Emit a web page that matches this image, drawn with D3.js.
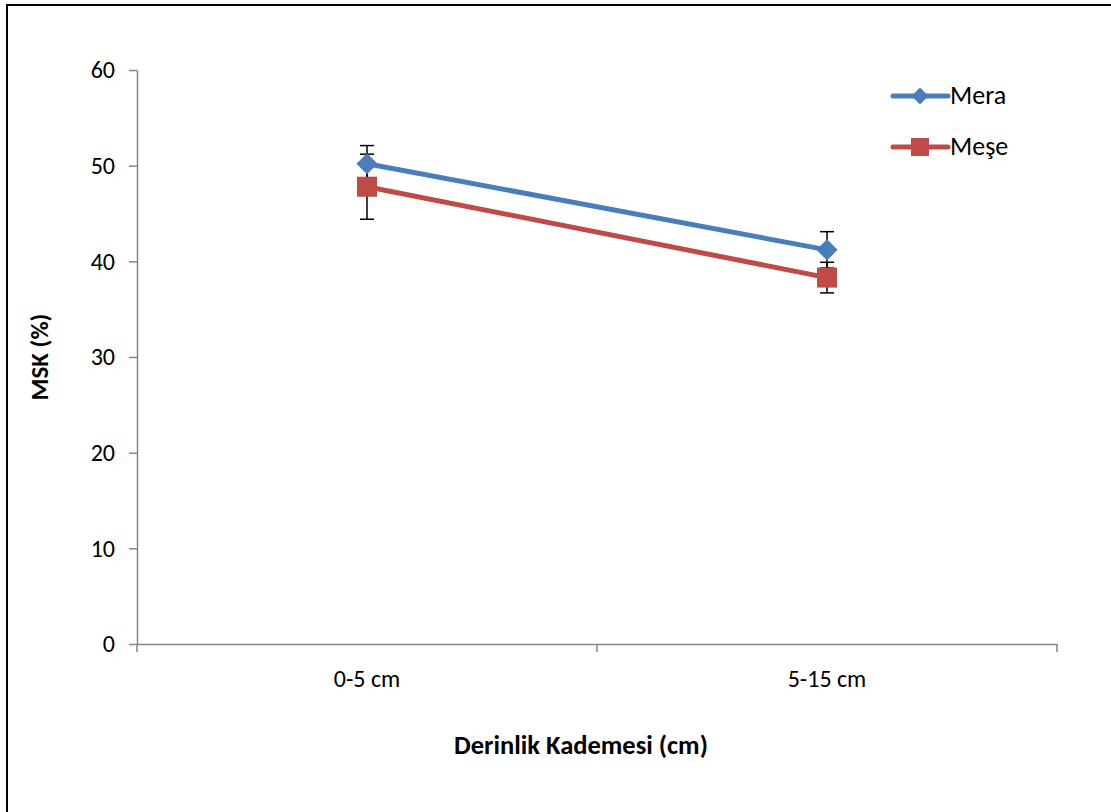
<!DOCTYPE html>
<html>
<head>
<meta charset="utf-8">
<script src="https://cdn.jsdelivr.net/npm/d3@7"></script>
<style>
  body { margin: 0; background: #fff; }
  text { font-family: Carlito, "Open Sans", "Liberation Sans", sans-serif; }
</style>
</head>
<body>
<div id="chart"></div>
<script>
const categories = ["0-5 cm", "5-15 cm"];
const seriesNames = ["Mera", "Meşe"];
const meraValues = [50.2, 41.2];
const meraErrors = [1.9, 1.9];
const meseValues = [47.8, 38.3];
const meseErrors = [3.4, 1.6];
const yTicks = [0, 10, 20, 30, 40, 50, 60];

const width = 1111, height = 812;
const margin = { left: 137, right: 54, top: 70, bottom: 168 };

const svg = d3.select("#chart").append("svg")
    .attr("width", width)
    .attr("height", height);

// outer frame
svg.append("rect")
    .attr("x", 7).attr("y", 5)
    .attr("width", width + 10).attr("height", height + 10)
    .attr("fill", "none").attr("stroke", "#000").attr("stroke-width", 2);

const x = d3.scaleBand()
    .domain(categories)
    .range([margin.left, width - margin.right]);

const y = d3.scaleLinear()
    .domain([0, 60])
    .range([height - margin.bottom, margin.top]);

// y axis
const yAxis = svg.append("g")
    .attr("transform", `translate(${margin.left},0)`)
    .call(d3.axisLeft(y).tickValues(yTicks).tickSize(8).tickPadding(14).tickSizeOuter(0));
yAxis.attr("font-family", null);
yAxis.select(".domain").attr("stroke", "#868686").attr("stroke-width", 1.5);
yAxis.selectAll(".tick line").attr("stroke", "#868686").attr("stroke-width", 1.5);
yAxis.selectAll(".tick text").attr("font-size", 24).attr("fill", "#000");

// x axis
const xAxis = svg.append("g")
    .attr("transform", `translate(0,${y(0)})`)
    .call(d3.axisBottom(x).tickSize(0).tickPadding(26));
xAxis.attr("font-family", null);
xAxis.select(".domain").attr("stroke", "#868686").attr("stroke-width", 1.5);
xAxis.selectAll(".tick text").attr("font-size", 24).attr("fill", "#000");
// category boundary ticks
const bounds = [margin.left, margin.left + x.step(), width - margin.right];
svg.selectAll("line.xb")
    .data(bounds)
    .enter().append("line")
    .attr("x1", d => d).attr("x2", d => d)
    .attr("y1", y(0)).attr("y2", y(0) + 8)
    .attr("stroke", "#868686").attr("stroke-width", 1.5);

// axis titles
svg.append("text")
    .attr("x", 581)
    .attr("y", 754)
    .attr("text-anchor", "middle")
    .attr("font-size", 26.5).attr("font-weight", "bold")
    .text("Derinlik Kademesi (cm)");

svg.append("text")
    .attr("transform", `translate(48,${(y(0) + y(60)) / 2}) rotate(-90)`)
    .attr("text-anchor", "middle")
    .attr("font-size", 25).attr("font-weight", "bold")
    .text("MSK (%)");

const cx = d => x(d) + x.bandwidth() / 2;

const series = [
    { name: seriesNames[0], values: meraValues, errors: meraErrors, color: "#4a7ebb", diamond: true },
    { name: seriesNames[1], values: meseValues, errors: meseErrors, color: "#be4b48", diamond: false }
];

// marker: square, rotated 45 for diamond
function marker(sel, s, side) {
    sel.append("rect")
        .attr("x", -side / 2).attr("y", -side / 2)
        .attr("width", side).attr("height", side)
        .attr("fill", s.color)
        .attr("transform", s.diamond ? "rotate(45)" : null);
}

// error bars
series.forEach(s => {
    const g = svg.append("g");
    categories.forEach((c, i) => {
        const v = s.values[i], e = s.errors[i];
        g.append("line")
            .attr("x1", cx(c)).attr("x2", cx(c))
            .attr("y1", y(v + e)).attr("y2", y(v - e))
            .attr("stroke", "#000").attr("stroke-width", 1.5);
        [v + e, v - e].forEach(t => {
            g.append("line")
                .attr("x1", cx(c) - 7).attr("x2", cx(c) + 7)
                .attr("y1", y(t)).attr("y2", y(t))
                .attr("stroke", "#000").attr("stroke-width", 1.5);
        });
    });
});

// lines and markers
const line = d3.line().x((d, i) => cx(categories[i])).y(d => y(d));
series.forEach(s => {
    svg.append("path")
        .datum(s.values)
        .attr("d", line)
        .attr("fill", "none")
        .attr("stroke", s.color)
        .attr("stroke-width", 5);
    s.values.forEach((d, i) => {
        const g = svg.append("g")
            .attr("transform", `translate(${cx(categories[i])},${y(d)})`);
        marker(g, s, s.diamond ? 15 : 20);
    });
});

// legend
const legend = svg.append("g");
series.forEach((s, i) => {
    const ly = 96 + i * 51;
    legend.append("line")
        .attr("x1", 893).attr("x2", 948)
        .attr("y1", ly).attr("y2", ly)
        .attr("stroke", s.color).attr("stroke-width", 5)
        .attr("stroke-linecap", "round");
    const g = legend.append("g").attr("transform", `translate(920,${ly})`);
    marker(g, s, s.diamond ? 12 : 18);
    legend.append("text")
        .attr("x", 950).attr("y", ly + 8)
        .attr("font-size", 26)
        .text(s.name);
});
</script>
</body>
</html>
